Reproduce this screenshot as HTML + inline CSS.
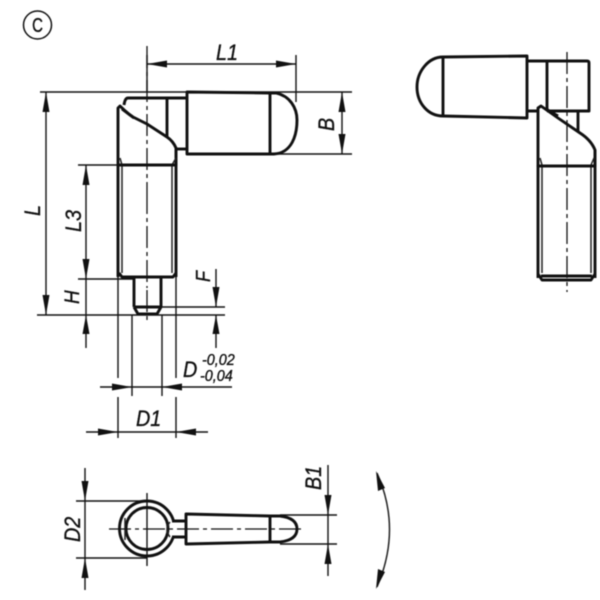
<!DOCTYPE html>
<html><head><meta charset="utf-8"><style>
html,body{margin:0;padding:0;background:#fff}
svg{display:block;filter:blur(.4px)}
text{font-family:"Liberation Sans",sans-serif;font-style:italic;fill:#111;stroke:#111;stroke-width:.35}
.t{fill:none;stroke:#111;stroke-width:2.9;stroke-linejoin:round}
.m{fill:none;stroke:#222;stroke-width:1.5}
.n{fill:none;stroke:#111;stroke-width:1.4}
.c{fill:none;stroke:#111;stroke-width:1.3;stroke-dasharray:22 4 4 4}
.a{fill:#111;stroke:none}
</style></head><body>
<svg width="600" height="600" viewBox="0 0 600 600" xmlns="http://www.w3.org/2000/svg">
<circle cx="37.5" cy="25" r="14" fill="none" stroke="#111" stroke-width="1.5"/>
<text x="37.5" y="32" font-size="20" text-anchor="middle" style="font-style:normal" transform="translate(37.5 0) scale(.75 1) translate(-37.5 0)">C</text>

<!-- left view -->
<path class="t" d="M187 92L270 93L276 93C290 96 297 108 297 120C297 135 292 153 274 154L187 154Z"/>
<path class="t" d="M270 93V153"/>
<path class="t" d="M187 98H128Q125 98 124 105"/>
<path class="t" d="M187 149H176"/>
<path class="t" d="M167 98V137" stroke-width="2.4"/>
<path class="t" d="M118 166V108L120 106Q127 113 133 117L147 124L167 137Q173 141 176 148V166"/>
<path class="t" d="M122 109L134 118" stroke-width="2"/>
<path class="t" d="M118 277V165M176 277V148"/>
<path class="m" d="M120 158L122 165V273M176 158L172 165V273"/>
<path class="t" d="M118 165H176" stroke-width="2"/>
<path class="t" d="M119 273L122 277H173L176 273"/>
<path class="t" d="M134 278V307M161 278V307M134 307L138 314H157L161 307M134 307H161"/>

<path class="c" d="M147 46V192"/>
<path class="c" d="M147 192V288" stroke-dasharray="18 4 4 4"/>
<path class="c" d="M147 290V324" stroke-dasharray="8 3 3 3"/>

<path class="n" d="M147 55V92M296 55V102M147 64H296M40 92H352M275 154H352M78 165H176M78 279H135M37 315H225M160 307H225"/>
<path class="n" d="M342 92V154M46 92V315M86 165V279M86 279V348M216 269V307M216 315V348"/>
<path class="n" d="M118 277V378M176 277V378M132 315V396M162 315V396M118 397V438M176 397V438"/>
<path class="n" d="M100 387H232M86 432H208"/>
<path class="a" d="M147 64l20-3.5v7zM296 64l-20-3.5v7zM342 92l-3.5 20h7zM342 154l-3.5-20h7zM46 92l-3.5 20h7zM46 315l-3.5-20h7zM86 165l-3.5 20h7zM86 279l-3.5-20h7zM86 315l-3.5 19h7zM216 307l-3.5-20h7zM216 315l-3.5 19h7zM132 387l-20-3.5v7zM162 387l20-3.5v7zM118 432l-20-3.5v7zM176 432l20-3.5v7z"/>

<text transform="translate(216 60) scale(.9 1)" font-size="22">L1</text>
<text transform="translate(334 131) rotate(-90) scale(.9 1)" font-size="22">B</text>
<text transform="translate(40 216) rotate(-90) scale(.9 1)" font-size="22">L</text>
<text transform="translate(81 232) rotate(-90) scale(.9 1)" font-size="22">L3</text>
<text transform="translate(79 304) rotate(-90) scale(.9 1)" font-size="21">H</text>
<text transform="translate(210 282) rotate(-90) scale(.9 1)" font-size="20">F</text>
<text transform="translate(183 377) scale(.9 1)" font-size="22">D</text>
<text transform="translate(202 365) scale(.9 1)" font-size="16">-0,02</text>
<text transform="translate(200 381) scale(.9 1)" font-size="16">-0,04</text>
<text transform="translate(136 426) scale(.9 1)" font-size="22">D1</text>

<!-- right view -->
<path class="t" d="M527 56L443 57C428 57 417 72 417 87C417 103 428 116 443 116L527 118Z"/>
<path class="t" d="M443 57V116"/>
<path class="t" d="M527 61H587Q589 61 589 63V111H547M527 111H539"/>
<path class="t" d="M547 61V111" stroke-width="2.4"/>
<path class="t" d="M578 112V131"/>
<path class="t" d="M538 167V108L541 106L558 118L580 133Q591 140 595 150V167"/>
<path class="t" d="M546 109L558 116" stroke-width="2"/>
<path class="t" d="M538 165V278M595 150V278"/>
<path class="m" d="M542 165V273M591 165V273M540 158L542 165M594 158L591 165"/>
<path class="t" d="M538 166H595" stroke-width="2"/>
<path class="t" d="M538 274L542 280H591L595 274M541 276H592"/>
<path class="c" d="M567 52V292" stroke-dasharray="24 4 4 4"/>

<!-- bottom view -->
<circle class="t" cx="147" cy="528.5" r="27.5" stroke-width="3"/>
<circle class="t" cx="147" cy="528.5" r="21" stroke-width="3"/>
<path class="m" d="M125 518V540"/>
<path fill="#fff" stroke="none" d="M170 522h16v15h-16z"/>
<path class="t" d="M186 514L270 516L280 516Q297 518 297 529Q297 540 280 542L270 542L186 544Z"/>
<path class="t" d="M270 516V542"/>
<path class="t" d="M172 521H186M172 537H186"/>
<path class="m" d="M170 522Q164 529 170 537"/>
<path class="c" d="M109 529H305" stroke-dasharray="24 4 4 4"/>
<path class="n" d="M147 493V566"/>
<path class="n" d="M76 501H147M76 558H147M280 515H337M280 544H337M85 468V590M328 465V576"/>
<path class="a" d="M85 501l-3.5-20h7zM85 558l-3.5 20h7zM328 515l-3.5-20h7zM328 544l-3.5 20h7z"/>
<path class="m" d="M377 473Q402 529 377 587"/>
<path class="a" d="M376 471l9 17-7 3zM376 589l9-17-7-3z"/>
<text transform="translate(80 542) rotate(-90) scale(.9 1)" font-size="22">D2</text>
<text transform="translate(321 490) rotate(-90) scale(.9 1)" font-size="22">B1</text>
</svg>
</body></html>
